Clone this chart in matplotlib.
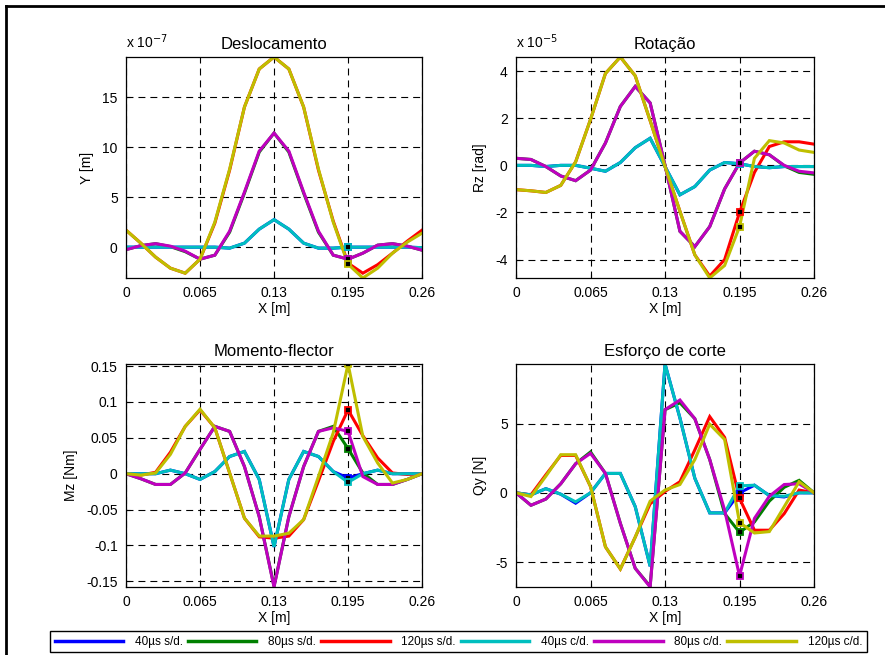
import numpy as np
import matplotlib
matplotlib.use("Agg")
import matplotlib.pyplot as plt
from matplotlib.lines import Line2D

plt.rcParams['font.family'] = ['Liberation Sans', 'DejaVu Sans']
plt.rcParams['lines.scale_dashes'] = False
plt.rcParams['axes.unicode_minus'] = False

# nodes along the beam, 0 .. 0.26 m
x = np.linspace(0, 0.26, 21)

labels = ['40µs s/d.', '80µs s/d.', '120µs s/d.', '40µs c/d.', '80µs c/d.', '120µs c/d.']
colors = ['#0000ff', '#008000', '#ff0000', '#00bfbf', '#bf00bf', '#bfbf00']

# Deslocamento Y (x 1e-7 m)
desl_40sd = [0.0, 0.0, 0.0, 0.0, 0.0, 0.0, 0.0, -0.1, 0.4, 1.8, 2.75, 1.8, 0.4, -0.1, -0.1, 0.0, 0.0, 0.0, 0.0, 0.0, -0.05]
desl_80sd = [-0.25, 0.15, 0.35, 0.05, -0.45, -1.2, -0.8, 1.5, 5.4, 9.5, 11.4, 9.5, 5.4, 1.5, -0.8, -1.2, -0.6, 0.2, 0.35, 0.1, -0.3]
desl_120sd = [1.7, 0.4, -1.0, -2.1, -2.6, -1.2, 2.4, 7.7, 14.0, 17.8, 19.0, 17.8, 14.0, 7.7, 2.6, -1.6, -2.6, -1.75, -0.6, 0.6, 1.7]
desl_40cd = [0.0, 0.0, 0.0, 0.0, 0.0, 0.0, 0.0, -0.1, 0.4, 1.8, 2.75, 1.8, 0.4, -0.1, -0.1, 0.0, 0.0, 0.0, 0.0, 0.0, -0.05]
desl_80cd = [-0.25, 0.15, 0.35, 0.1, -0.4, -1.2, -0.8, 1.6, 5.5, 9.6, 11.4, 9.6, 5.5, 1.6, -0.8, -1.2, -0.6, 0.2, 0.35, 0.1, -0.3]
desl_120cd = [1.7, 0.4, -1.0, -2.1, -2.6, -1.2, 2.5, 7.8, 14.0, 17.8, 19.0, 17.8, 14.0, 7.8, 2.5, -1.7, -3.08, -2.1, -0.6, 0.5, 1.4]

# Rotacao Rz (x 1e-5 rad)
rot_40sd = [0.0, 0.0, -0.05, 0.0, 0.0, -0.12, -0.25, 0.12, 0.75, 1.15, -0.05, -1.25, -0.9, -0.2, 0.12, 0.07, -0.05, -0.1, -0.05, -0.05, -0.05]
rot_80sd = [0.3, 0.25, -0.05, -0.45, -0.65, -0.2, 0.95, 2.5, 3.35, 2.65, 0.0, -2.8, -3.45, -2.6, -1.0, 0.1, 0.6, 0.45, -0.02, -0.3, -0.38]
rot_120sd = [-1.03, -1.08, -1.15, -0.85, 0.15, 1.95, 3.9, 4.6, 3.8, 1.9, -0.05, -1.95, -3.8, -4.7, -4.0, -2.0, -0.3, 0.8, 1.0, 1.0, 0.9]
rot_40cd = [0.0, 0.0, -0.05, 0.0, 0.0, -0.12, -0.25, 0.12, 0.75, 1.15, -0.05, -1.25, -0.9, -0.2, 0.12, 0.07, -0.05, -0.1, -0.05, -0.05, -0.05]
rot_80cd = [0.3, 0.25, -0.05, -0.45, -0.65, -0.2, 0.95, 2.5, 3.35, 2.65, 0.0, -2.8, -3.45, -2.6, -1.0, 0.1, 0.6, 0.45, 0.0, -0.25, -0.32]
rot_120cd = [-1.03, -1.08, -1.15, -0.85, 0.15, 1.95, 3.9, 4.6, 3.8, 1.9, -0.05, -1.95, -3.8, -4.78, -4.25, -2.6, 0.3, 1.05, 0.95, 0.65, 0.55]

# Momento-flector Mz (Nm)
mom_40sd = [0.0, 0.0, 0.0, 0.005, 0.0, -0.008, 0.003, 0.024, 0.031, -0.008, -0.102, -0.008, 0.031, 0.024, 0.003, -0.006, 0.0, 0.005, 0.0, 0.0, 0.0]
mom_80sd = [0.0, -0.007, -0.015, -0.015, 0.001, 0.034, 0.066, 0.059, 0.01, -0.06, -0.157, -0.06, 0.01, 0.059, 0.066, 0.035, 0.001, -0.015, -0.015, -0.008, 0.0]
mom_120sd = [0.0, -0.002, 0.002, 0.03, 0.066, 0.089, 0.064, 0.001, -0.062, -0.088, -0.09, -0.087, -0.064, -0.01, 0.045, 0.089, 0.053, 0.022, 0.001, -0.001, 0.0]
mom_40cd = [0.0, 0.0, 0.0, 0.005, 0.0, -0.008, 0.003, 0.024, 0.031, -0.008, -0.102, -0.008, 0.031, 0.024, 0.003, -0.012, 0.0, 0.005, 0.0, 0.0, 0.0]
mom_80cd = [0.0, -0.007, -0.015, -0.015, 0.001, 0.034, 0.066, 0.059, 0.01, -0.06, -0.158, -0.06, 0.01, 0.059, 0.064, 0.059, -0.004, -0.015, -0.015, -0.008, 0.0]
mom_120cd = [0.0, -0.002, 0.001, 0.027, 0.066, 0.09, 0.064, 0.001, -0.062, -0.087, -0.087, -0.083, -0.064, -0.004, 0.057, 0.153, 0.052, 0.015, -0.013, -0.008, 0.0]

# Esforco de corte Qy (N)
qy_40sd = [0.0, -0.15, 0.3, -0.1, -0.75, 0.0, 1.4, 1.4, -1.0, -5.3, 9.3, 5.4, 1.05, -1.45, -1.45, 0.0, 0.55, -0.2, -0.3, 0.0, 0.0]
qy_80sd = [0.0, -0.9, -0.45, 0.65, 2.1, 2.95, 1.4, -2.2, -5.45, -6.75, 6.0, 6.5, 5.35, 2.4, -1.5, -2.85, -2.1, -0.6, 0.4, 0.9, 0.0]
qy_120sd = [0.0, -0.15, 1.3, 2.7, 2.7, 0.45, -3.9, -5.5, -3.2, -0.8, 0.1, 0.8, 3.1, 5.5, 4.0, -0.4, -2.7, -2.7, -1.5, 0.2, 0.0]
qy_40cd = [0.0, -0.15, 0.3, -0.1, -0.65, 0.0, 1.4, 1.4, -1.0, -5.3, 9.3, 5.4, 1.05, -1.45, -1.45, 0.5, 0.55, -0.2, -0.25, 0.0, 0.0]
qy_80cd = [0.0, -0.9, -0.45, 0.65, 2.1, 2.85, 1.4, -2.2, -5.45, -6.8, 6.0, 6.7, 5.35, 2.4, -1.25, -6.0, -1.85, -0.25, 0.6, 0.65, 0.0]
qy_120cd = [0.0, -0.27, 1.2, 2.75, 2.75, 0.45, -3.9, -5.5, -3.2, -0.6, 0.2, 0.6, 2.4, 4.95, 3.85, -2.15, -2.9, -2.8, -1.0, 0.8, 0.0]

panels = [
    ('Deslocamento', 'Y [m]', 'x 10$^{-7}$', [0, 5, 10, 15], None,
     [desl_40sd, desl_80sd, desl_120sd, desl_40cd, desl_80cd, desl_120cd]),
    ('Rotação', 'Rz [rad]', 'x 10$^{-5}$', [-4, -2, 0, 2, 4], None,
     [rot_40sd, rot_80sd, rot_120sd, rot_40cd, rot_80cd, rot_120cd]),
    ('Momento-flector', 'Mz [Nm]', None, [-0.15, -0.1, -0.05, 0, 0.05, 0.1, 0.15],
     ['-0.15', '-0.1', '-0.05', '0', '0.05', '0.1', '0.15'],
     [mom_40sd, mom_80sd, mom_120sd, mom_40cd, mom_80cd, mom_120cd]),
    ('Esforço de corte', 'Qy [N]', None, [-5, 0, 5], None,
     [qy_40sd, qy_80sd, qy_120sd, qy_40cd, qy_80cd, qy_120cd]),
]

positions = [[0.1424, 0.5756, 0.3345, 0.3374],
             [0.5831, 0.5756, 0.3367, 0.3374],
             [0.1424, 0.1038, 0.3345, 0.3405],
             [0.5831, 0.1038, 0.3367, 0.3405]]

fig = plt.figure(figsize=(8.85, 6.55), dpi=100)

mark_i = 15  # node at x = 0.195
for pos, (title, ylab, offset, yt, ytl, series) in zip(positions, panels):
    ax = fig.add_axes(pos)
    for s, c, lab in zip(series, colors, labels):
        ax.plot(x, s, color=c, lw=2.2, label=lab, solid_joinstyle='miter')
    for s, c in zip(series, colors):
        ax.plot(x[mark_i], s[mark_i], 's', ms=5, mfc='black', mec=c, mew=1.3)
    lo = min(min(s) for s in series)
    hi = max(max(s) for s in series)
    ax.set_xlim(0, 0.26)
    ax.set_ylim(lo, hi)
    ax.set_xticks([0, 0.065, 0.13, 0.195, 0.26])
    ax.set_xticklabels(['0', '0.065', '0.13', '0.195', '0.26'])
    ax.set_yticks(yt)
    if ytl:
        ax.set_yticklabels(ytl)
    ax.grid(True, color='black', lw=0.8, linestyle=(0, (5, 3.6)))
    ax.set_axisbelow(True)
    ax.tick_params(direction='in', length=3, labelsize=10, pad=6, width=0.8)
    for sp in ax.spines.values():
        sp.set_linewidth(0.9)
    ax.set_title(title, fontsize=12, pad=6)
    ax.set_xlabel('X [m]', fontsize=10, labelpad=1)
    ax.set_ylabel(ylab, fontsize=10, labelpad=6)
    if offset:
        ax.text(0, 1.025, offset, transform=ax.transAxes, fontsize=10, ha='left', va='bottom')

handles = [Line2D([], [], color=c, lw=2.5) for c in colors]
fig.legend(handles, labels, loc='lower left', ncol=6, mode='expand',
           bbox_to_anchor=(0.0565, 0.004, 0.923, 0.037), fontsize=8.5,
           handlelength=5.8, handletextpad=1.0, borderpad=0.4, fancybox=False,
           edgecolor='black', framealpha=1, borderaxespad=0)

# outer frame (top and left edges visible)
fig.add_artist(Line2D([6 / 885, 1.0], [1 - 6 / 655, 1 - 6 / 655], transform=fig.transFigure, color='black', lw=2))
fig.add_artist(Line2D([6 / 885, 6 / 885], [0.0, 1 - 6 / 655], transform=fig.transFigure, color='black', lw=2))

fig.savefig('out.png', dpi=100)
